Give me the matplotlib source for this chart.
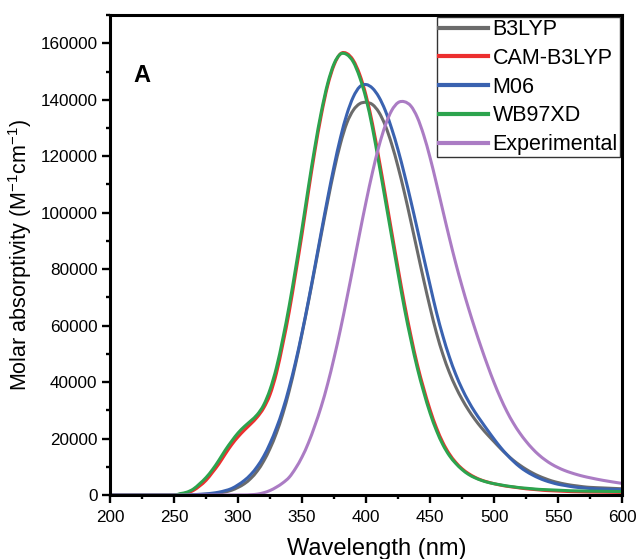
import numpy as np
import matplotlib
matplotlib.use("Agg")
import matplotlib.pyplot as plt
from matplotlib.ticker import MultipleLocator
from matplotlib.path import Path
from matplotlib.patches import PathPatch
from matplotlib.lines import Line2D

plt.rcParams['font.family'] = ['Liberation Sans', 'DejaVu Sans']

wavelength = [200, 225, 250, 255, 260, 265, 270, 275, 280, 285,
              290, 295, 300, 305, 310, 315, 320, 325, 330, 335,
              340, 345, 350, 355, 360, 365, 370, 375, 380, 385,
              390, 395, 400, 405, 410, 415, 420, 425, 430, 435,
              440, 445, 450, 455, 460, 465, 470, 475, 480, 485,
              490, 495, 500, 505, 510, 515, 520, 525, 530, 535,
              540, 545, 550, 555, 560, 565, 570, 575, 585, 600]

b3lyp = [0, 0, 0, 0, 0, 50, 150, 250, 400, 700,
         1100, 1700, 2700, 4000, 5900, 8500, 12000, 16500, 22000, 28800,
         37000, 46500, 57200, 68500, 80300, 92300, 104000, 115000, 124500, 131800,
         136300, 138600, 139100, 138300, 135600, 130900, 124300, 116200, 107000, 96900,
         86500, 76200, 66400, 57400, 49800, 43500, 38300, 33900, 30100, 26800,
         23900, 21300, 18900, 16500, 14300, 12300, 10600, 9100, 7800, 6700,
         5800, 5000, 4400, 3900, 3500, 3200, 2900, 2700, 2500, 2200]

cam_b3lyp = [0, 0, 0, 300, 700, 1600, 3200, 5200, 8000, 11000,
             14500, 17800, 20600, 23000, 25200, 27600, 30800, 35600, 43200, 53500,
             65000, 78500, 92500, 107500, 121800, 134500, 145000, 152300, 156300, 156400,
             154000, 149000, 141500, 131500, 119300, 106500, 93300, 80300, 67800, 56500,
             46300, 37800, 30200, 23800, 18600, 14600, 11600, 9300, 7600, 6300,
             5300, 4600, 4000, 3500, 3100, 2800, 2500, 2200, 2000, 1800,
             1600, 1500, 1400, 1300, 1200, 1150, 1100, 1050, 1000, 900]

m06 = [0, 0, 0, 0, 0, 100, 250, 400, 650, 1000,
       1550, 2300, 3600, 5200, 7300, 10100, 13700, 18300, 23800, 30300,
       38200, 47300, 57600, 68900, 80900, 93200, 105200, 116500, 126600, 134900,
       141000, 144600, 145400, 144100, 141000, 136200, 129800, 122200, 113500, 104100,
       94200, 84200, 74300, 64700, 56300, 49000, 42800, 37600, 33200, 29400,
       26100, 22900, 19800, 16900, 14300, 12000, 10000, 8400, 7100, 6000,
       5100, 4400, 3800, 3400, 3000, 2700, 2500, 2300, 2100, 1900]

wb97xd = [0, 0, 0, 500, 1000, 2100, 4000, 6200, 9000, 12300,
          15900, 19100, 22000, 24300, 26300, 28500, 31900, 37400, 45200, 55500,
          67200, 80500, 94500, 109300, 123300, 135700, 145800, 152800, 156200, 156000,
          153400, 148000, 140300, 130000, 117500, 104500, 91500, 78500, 66000, 55000,
          45000, 36500, 29000, 22800, 17800, 14000, 11200, 9000, 7300, 6100,
          5200, 4500, 4000, 3600, 3200, 2900, 2600, 2400, 2200, 2000,
          1900, 1800, 1700, 1600, 1500, 1450, 1400, 1350, 1300, 1200]

experimental = [0, 0, 0, 0, 0, 0, 0, 0, 0, 0,
                0, 0, 0, 0, 100, 300, 800, 1600, 2800, 4300,
                6300, 9500, 13500, 18500, 24600, 31400, 39400, 48600, 58700, 69700,
                81100, 92700, 103900, 114300, 123500, 130900, 136200, 139000, 139300, 137800,
                133800, 127500, 119500, 110300, 100700, 91200, 82200, 73900, 66200, 59000,
                52200, 45800, 39800, 34400, 29600, 25500, 22000, 19000, 16400, 14200,
                12400, 10900, 9700, 8700, 7900, 7200, 6600, 6100, 5200, 4100]

series = [("B3LYP", b3lyp, "#6b6b6b"),
          ("CAM-B3LYP", cam_b3lyp, "#ec2f2f"),
          ("M06", m06, "#3a62b0"),
          ("WB97XD", wb97xd, "#2ca44e"),
          ("Experimental", experimental, "#ab7cc4")]

for _, s, _ in series:
    assert len(s) == len(wavelength)


def spline_path(x, y):
    """Smooth (Catmull-Rom style) connection of the data points as a Bezier path."""
    x = np.asarray(x, float)
    y = np.asarray(y, float)
    n = len(x)
    h = np.diff(x)
    m = np.zeros(n)
    m[0] = (y[1] - y[0]) / h[0]
    m[-1] = (y[-1] - y[-2]) / h[-1]
    for k in range(1, n - 1):
        m[k] = (y[k + 1] - y[k - 1]) / (x[k + 1] - x[k - 1])
        if y[k] == 0 and (y[k - 1] == 0 or y[k + 1] == 0):
            m[k] = 0.0
    verts = [(x[0], y[0])]
    codes = [Path.MOVETO]
    for k in range(n - 1):
        verts += [(x[k] + h[k] / 3, y[k] + m[k] * h[k] / 3),
                  (x[k + 1] - h[k] / 3, y[k + 1] - m[k + 1] * h[k] / 3),
                  (x[k + 1], y[k + 1])]
        codes += [Path.CURVE4] * 3
    return Path(verts, codes)


fig = plt.figure(figsize=(6.4, 5.59), dpi=100)
ax = fig.add_axes([0.172, 0.1145, 0.8, 0.8585])

LW = 2.2
handles = []
for name, vals, col in series:
    patch = PathPatch(spline_path(wavelength, vals), facecolor='none', edgecolor=col,
                      lw=LW, joinstyle='round', capstyle='round')
    ax.add_patch(patch)
    handles.append(Line2D([], [], color=col, lw=3.0, label=name))

ax.set_xlim(200, 600)
ax.set_ylim(0, 170000)
ax.xaxis.set_major_locator(MultipleLocator(50))
ax.xaxis.set_minor_locator(MultipleLocator(25))
ax.yaxis.set_major_locator(MultipleLocator(20000))
ax.yaxis.set_minor_locator(MultipleLocator(10000))
ax.tick_params(which='major', direction='out', length=5.5, width=1.7, labelsize=12.3)
ax.tick_params(axis='x', which='major', pad=5)
ax.tick_params(which='minor', direction='out', length=3, width=1.7)
ax.tick_params(top=False, right=False)
for sp in ax.spines.values():
    sp.set_linewidth(2.2)

ax.set_xlabel("Wavelength (nm)", fontsize=17, labelpad=10)
ax.xaxis.label.set_x(0.52)
ax.set_ylabel("Molar absorptivity (M$^{\\mathregular{-1}}$cm$^{\\mathregular{-1}}$)",
              fontsize=15.5, labelpad=5)

ax.text(0.045, 0.875, "A", transform=ax.transAxes, fontsize=17, fontweight='bold',
        va='center', ha='left')

leg = ax.legend(handles=handles, loc='upper right', bbox_to_anchor=(0.996, 0.996),
                borderaxespad=0, fontsize=15.5, frameon=True, fancybox=False,
                handlelength=2.3, handletextpad=0.2, labelspacing=0.36, borderpad=0.1)
leg.get_frame().set_edgecolor('black')
leg.get_frame().set_linewidth(1.0)

fig.savefig("out.png", dpi=100)
